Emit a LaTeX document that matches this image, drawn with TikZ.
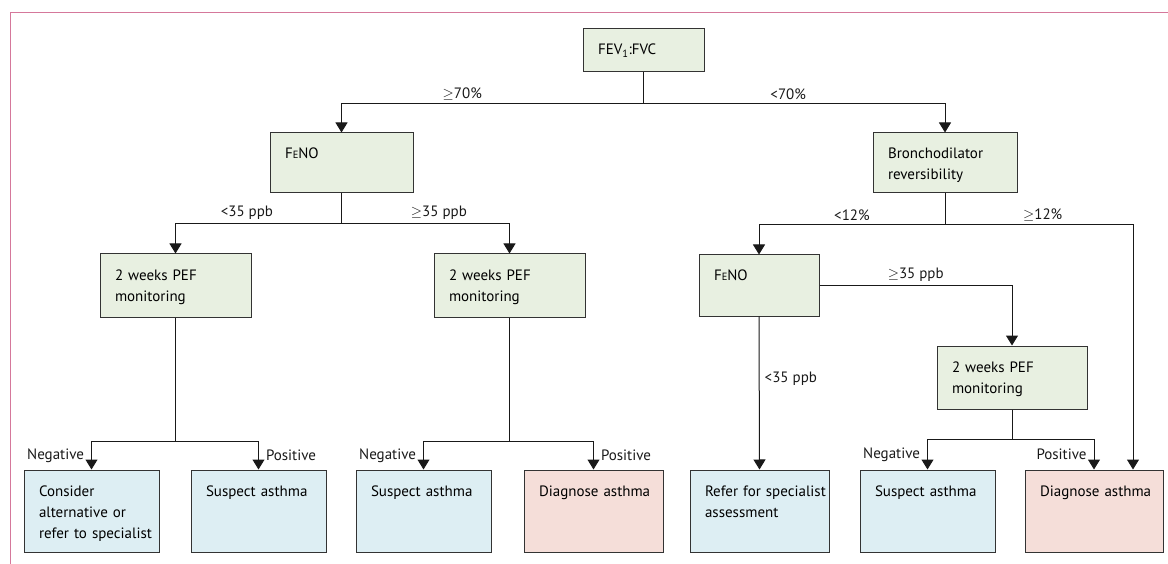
\documentclass[tikz,border=0pt]{standalone}
\usepackage{fontspec}
\setmainfont{PT Sans}
\usetikzlibrary{arrows.meta, positioning}
\definecolor{boxgreen}{HTML}{E8F0E1}
\definecolor{boxblue}{HTML}{DDEEF3}
\definecolor{boxpink}{HTML}{F5DED9}
\definecolor{boxline}{HTML}{333333}
\definecolor{framepink}{HTML}{D5789B}
\newcommand{\atleast}{\ensuremath{\geq}}

\begin{document}
\begin{tikzpicture}[
  x=1pt, y=-1pt,
  >={Triangle[width=12pt,length=10pt]},
  box/.style={
    draw=boxline, line width=1pt, inner xsep=0pt, inner ysep=0pt,
    align=left, text height=26pt,
    font=\fontsize{15}{21}\selectfont,
    execute at begin node={\leftskip=15pt\hyphenpenalty=10000\relax}
  },
  testbox/.style 2 args={box, fill=boxgreen, text width=#1, text depth=#2},
  referbox/.style={box, fill=boxblue, text width=#1, text depth=56pt},
  diagbox/.style={box, fill=boxpink, text width=#1, text depth=56pt},
  lab/.style={font=\fontsize{15}{21}\selectfont, inner sep=2pt},
  link/.style={line width=1pt, black!90},
  arr/.style={->, line width=1pt, black!90},
]
\useasboundingbox (0,0) rectangle (1168,564);

% frame corner
\draw[framepink, line width=1pt] (10,564) |- (1168,13);

% Tests
\node[testbox={121pt}{17pt}] (fev) at (643.5, 50.5) {FEV\textsubscript{1}:FVC};
\node[testbox={143pt}{34pt}] (feno1) at (341.5, 163) {F{\fontsize{10.5}{10}\selectfont E}NO};
\node[testbox={144pt}{34pt}] (bronch) at (945, 163) {Bronchodilator\\reversibility};
\node[testbox={151pt}{37pt}] (pef1) at (175.5, 285.5) {2 weeks PEF\\monitoring};
\node[testbox={151pt}{37pt}] (pef2) at (509.5, 285.5) {2 weeks PEF\\monitoring};
\node[testbox={120pt}{35pt}] (feno2) at (759, 285.5) {F{\fontsize{10.5}{10}\selectfont E}NO};
\node[testbox={150pt}{37pt}] (pef3) at (1012, 377.5) {2 weeks PEF\\monitoring};

% Outcomes
\node[referbox=135pt] (alt) at (91.5, 511) {Consider\\alternative or\\refer to specialist};
\node[referbox=135pt] (sus1) at (258.5, 511) {Suspect asthma};
\node[referbox=135pt] (sus2) at (423.5, 511) {Suspect asthma};
\node[diagbox=139pt] (dx1) at (593.5, 511) {Diagnose asthma};
\node[referbox=139pt] (refer) at (759.5, 511) {Refer for specialist\\assessment};
\node[referbox=135pt] (sus3) at (927.5, 511) {Suspect asthma};
\node[diagbox=138pt] (dx2) at (1094, 511) {Diagnose asthma};

% FEV1:FVC split
\draw[link] (fev.south) -- ++(0,31) coordinate (f1);
\draw[arr] (f1) -| node[lab, above=1pt, pos=.3] (g70) {\atleast70\%} (feno1.north);
\draw[arr] (f1) -| node[lab, above=1pt, pos=.24] (l70) {<70\%} (bronch.north);

% FeNO split (left)
\draw[link] (feno1.south) -- ++(0,30) coordinate (f2);
\draw[arr] (f2) -| node[lab, above=1pt, pos=.285] (l35a) {<35 ppb} (pef1.north);
\draw[arr] (f2) -| node[lab, above=1pt, pos=.29] (g35a) {\atleast35 ppb} (pef2.north);

% Bronchodilator split
\draw[link] (bronch.south) -- ++(0,31) coordinate (f3);
\draw[arr] (f3) -| node[lab, above=1pt, pos=.25] (l12) {<12\%} (feno2.north);
\draw[arr] (f3) -| node[lab, above=1pt, pos=.26] (g12) {\atleast12\%} ([xshift=39pt]dx2.north);

% FeNO split (right)
\draw[arr] (feno2.east) -| node[lab, above=1pt, pos=.25] (g35b) {\atleast35 ppb} (pef3.north);
\draw[arr] (feno2.south) -- node[lab, right=3pt, pos=.41] (l35b) {<35 ppb} (refer.north);

% PEF results
\draw[link] (pef1.south) -- ++(0,124) coordinate (f4);
\draw[arr] (f4) -| node[lab, left=5pt, pos=.75] (n1) {Negative} (alt.north);
\draw[arr] (f4) -| node[lab, right=5pt, pos=.75] (p1) {Positive} (sus1.north);
\draw[link] (pef2.south) -- ++(0,124) coordinate (f5);
\draw[arr] (f5) -| node[lab, left=5pt, pos=.75] (n2) {Negative} (sus2.north);
\draw[arr] (f5) -| node[lab, right=5pt, pos=.75] (p2) {Positive} (dx1.north);
\draw[link] (pef3.south) -- ++(0,30) coordinate (f6);
\draw[arr] (f6) -| node[lab, left=5pt, pos=.75] (n3) {Negative} (sus3.north);
\draw[arr] (f6) -| node[lab, left=5pt, pos=.75] (p3) {Positive} (dx2.north);

\end{tikzpicture}
\end{document}
